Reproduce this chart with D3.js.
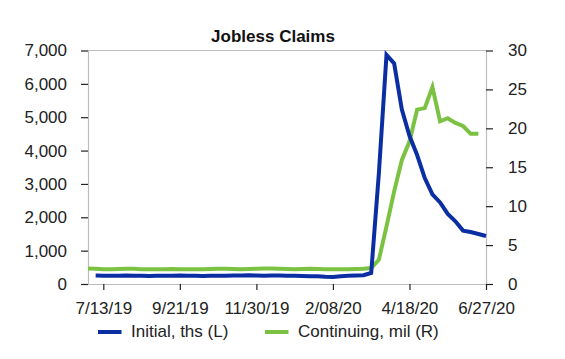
<!DOCTYPE html>
<html>
<head>
<meta charset="utf-8">
<script src="https://cdn.jsdelivr.net/npm/d3@7"></script>
<style>
  html, body { margin: 0; padding: 0; background: #fff; }
  svg { display: block; font-family: "Liberation Sans", Arial, sans-serif; }
</style>
</head>
<body>
<svg id="chart" width="565" height="359"></svg>
<script>
// ---- data ----
const title = "Jobless Claims";
const initialStart = "2019-07-06";   // weekly, week ending dates
const continuingStart = "2019-06-29";
const initialValues = [
  255,250,245,250,255,250,245,240,245,250,250,255,245,245,240,245,250,250,
  255,255,260,255,250,255,255,250,245,240,235,230,215,210,235,245,255,265,
  330,3307,6867,6615,5237,4442,3867,3176,2687,2446,2100,1880,1600,1560,1500,1440
];
const continuingValues = [
  2.0,1.95,1.9,1.9,1.92,1.95,1.95,1.9,1.88,1.88,1.9,1.92,1.9,1.88,1.88,1.9,
  1.92,1.95,1.95,1.92,1.9,1.92,1.95,1.98,2.0,1.95,1.92,1.9,1.92,1.95,1.92,
  1.9,1.9,1.88,1.9,1.92,1.95,
  2.05,3.1,7.4,11.9,15.9,18.3,22.4,22.6,25.3,20.9,21.3,20.7,20.3,19.3,19.3
];
const xTickDates = ["2019-07-13","2019-09-21","2019-11-30","2020-02-08","2020-04-18","2020-06-27"];
const leftTicks = [0,1000,2000,3000,4000,5000,6000,7000];
const rightTicks = [0,5,10,15,20,25,30];
const seriesNames = ["Initial, ths (L)", "Continuing, mil (R)"];
const seriesColors = ["#0b2fa3", "#7cc242"];

// ---- helpers ----
const parse = d3.utcParse("%Y-%m-%d");
function weekly(start, vals) {
  const s = parse(start);
  return vals.map((v, i) => ({ date: d3.utcDay.offset(s, 7 * i), value: v }));
}
const initial = weekly(initialStart, initialValues);
const continuing = weekly(continuingStart, continuingValues);

// ---- layout ----
const svg = d3.select("#chart");
const L = 88, R = 486, T = 50.5, B = 284;
const textColor = "#222";
const axisGray = "#bdbdbd";

const x = d3.scaleUtc().domain([parse("2019-06-29"), parse("2020-06-27")]).range([L, R]);
const yL = d3.scaleLinear().domain([0, 7000]).range([B, T]);
const yR = d3.scaleLinear().domain([0, 30]).range([B, T]);

// title
svg.append("text")
  .attr("x", 273).attr("y", 41.7)
  .attr("text-anchor", "middle")
  .attr("font-size", 17).attr("font-weight", "bold")
  .attr("fill", "#111")
  .text(title);

// top border
svg.append("line")
  .attr("x1", L).attr("x2", R).attr("y1", T).attr("y2", T)
  .attr("stroke", axisGray).attr("stroke-width", 1);

function styleAxis(g) {
  g.select(".domain").attr("stroke", axisGray).attr("stroke-width", 1.2);
  g.selectAll(".tick line").attr("stroke", "#222").attr("stroke-width", 1.2);
  g.selectAll(".tick text").attr("fill", textColor).attr("font-size", 17)
    .attr("font-family", "Liberation Sans, Arial, sans-serif");
}

// left axis
svg.append("g")
  .attr("transform", `translate(${L},0)`)
  .call(d3.axisLeft(yL).tickValues(leftTicks).tickFormat(d3.format(",")).tickSize(7).tickSizeOuter(0).tickPadding(14))
  .call(styleAxis);

// right axis
svg.append("g")
  .attr("transform", `translate(${R},0)`)
  .call(d3.axisRight(yR).tickValues(rightTicks).tickSize(7).tickSizeOuter(0).tickPadding(15))
  .call(styleAxis);

// bottom axis
const fmt = d3.utcFormat("%-m/%d/%y");
svg.append("g")
  .attr("transform", `translate(0,${B})`)
  .call(d3.axisBottom(x).tickValues(xTickDates.map(parse)).tickFormat(fmt).tickSize(6).tickSizeOuter(0).tickPadding(12))
  .call(styleAxis);

// lines
const lineL = d3.line().x(d => x(d.date)).y(d => yL(d.value));
const lineR = d3.line().x(d => x(d.date)).y(d => yR(d.value));

svg.append("path").datum(continuing)
  .attr("d", lineR).attr("fill", "none")
  .attr("stroke", seriesColors[1]).attr("stroke-width", 4)
  .attr("stroke-linejoin", "miter");

svg.append("path").datum(initial)
  .attr("d", lineL).attr("fill", "none")
  .attr("stroke", seriesColors[0]).attr("stroke-width", 4)
  .attr("stroke-linejoin", "miter");

// legend
const legendItems = [
  { name: seriesNames[0], color: seriesColors[0], x: 98 },
  { name: seriesNames[1], color: seriesColors[1], x: 265 }
];
const lg = svg.append("g");
legendItems.forEach(it => {
  lg.append("line")
    .attr("x1", it.x).attr("x2", it.x + 23.5)
    .attr("y1", 332).attr("y2", 332)
    .attr("stroke", it.color).attr("stroke-width", 4);
  lg.append("text")
    .attr("x", it.x + 33).attr("y", 336.5)
    .attr("font-size", 17).attr("fill", textColor)
    .text(it.name);
});
</script>
</body>
</html>
